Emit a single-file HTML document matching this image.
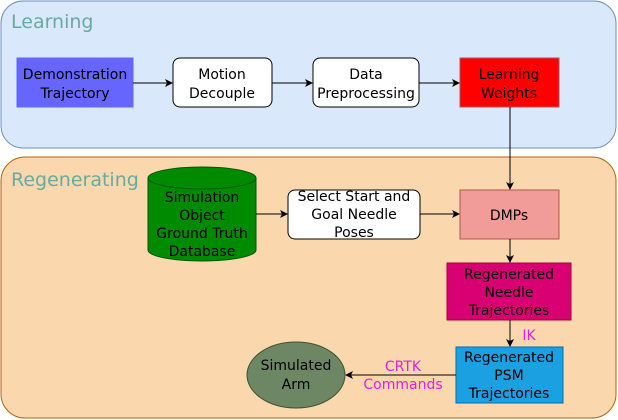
<!DOCTYPE html>
<html><head><meta charset="utf-8"><style>
body{margin:0;background:#fff}
svg{display:block}
text{font-family:"DejaVu Sans",sans-serif;font-size:14px;text-anchor:middle}
</style></head><body>
<svg width="618" height="420" viewBox="0 0 618 420">
<defs><marker id="a" markerWidth="8" markerHeight="8" refX="7" refY="4" orient="auto" markerUnits="userSpaceOnUse"><path d="M0,0 L8,4 L0,8 L2,4 Z" fill="#000"/></marker></defs>
<rect x="1" y="1" width="615" height="147" rx="22" fill="#dae8fc" stroke="#6c8ebf"/>
<rect x="1" y="157" width="615" height="261" rx="24" fill="#fad7ac" stroke="#b46504"/>
<text x="11" y="28" style="font-size:19px;text-anchor:start;fill:#67ab9f">Learning</text>
<text x="11" y="186" style="font-size:19px;text-anchor:start;fill:#67ab9f">Regenerating</text>
<rect x="17" y="58" width="116" height="49" fill="#6666ff" stroke="#6666ff"/>
<text x="75" y="79">Demonstration</text><text x="75" y="98">Trajectory</text>
<rect x="173" y="58" width="99" height="49" rx="7" fill="#fff" stroke="#000"/>
<text x="222" y="79">Motion</text><text x="222" y="98">Decouple</text>
<rect x="313" y="58" width="106" height="49" rx="7" fill="#fff" stroke="#000"/>
<text x="366" y="79">Data</text><text x="366" y="98">Preprocessing</text>
<rect x="460" y="58" width="99" height="49" fill="#ff0000" stroke="#b85450"/>
<text x="509" y="79">Learning</text><text x="509" y="98">Weights</text>
<line x1="133" y1="83" x2="172" y2="83" stroke="#000" marker-end="url(#a)"/>
<line x1="272" y1="83" x2="312" y2="83" stroke="#000" marker-end="url(#a)"/>
<line x1="419" y1="83" x2="459" y2="83" stroke="#000" marker-end="url(#a)"/>
<line x1="510" y1="107" x2="510" y2="189" stroke="#000" marker-end="url(#a)"/>
<path d="M148,178 L148,250 A54,11 0 0 0 256,250 L256,178" fill="#008a00" stroke="#005700"/>
<ellipse cx="202" cy="178" rx="54" ry="11" fill="#008a00" stroke="#005700"/>
<text x="202" y="202">Simulation</text><text x="202" y="220">Object</text><text x="202" y="238">Ground Truth</text><text x="202" y="256">Database</text>
<rect x="288" y="190" width="132" height="49" rx="7" fill="#fff" stroke="#000"/>
<text x="354" y="201">Select Start and</text><text x="354" y="219">Goal Needle</text><text x="354" y="237">Poses</text>
<rect x="460" y="190" width="99" height="49" fill="#f19c99" stroke="#b85450"/>
<text x="509" y="220">DMPs</text>
<line x1="256" y1="214" x2="287" y2="214" stroke="#000" marker-end="url(#a)"/>
<line x1="420" y1="214" x2="459" y2="214" stroke="#000" marker-end="url(#a)"/>
<line x1="510" y1="239" x2="510" y2="262" stroke="#000" marker-end="url(#a)"/>
<rect x="447" y="263" width="124" height="57" fill="#d80073" stroke="#a50040"/>
<text x="509" y="279">Regenerated</text><text x="509" y="297">Needle</text><text x="509" y="315">Trajectories</text>
<line x1="510" y1="320" x2="510" y2="346" stroke="#000" marker-end="url(#a)"/>
<text x="529" y="340" style="fill:#e020e0">IK</text>
<rect x="456" y="347" width="107" height="56" fill="#1ba1e2" stroke="#006eaf"/>
<text x="509" y="362">Regenerated</text><text x="509" y="380">PSM</text><text x="509" y="398">Trajectories</text>
<line x1="456" y1="375" x2="346" y2="375" stroke="#000" marker-end="url(#a)"/>
<text x="403" y="371" style="fill:#e020e0">CRTK</text><text x="403" y="389" style="fill:#e020e0">Commands</text>
<ellipse cx="296" cy="375" rx="49" ry="33" fill="#6d8764" stroke="#3a5431"/>
<text x="296" y="370">Simulated</text><text x="296" y="389">Arm</text>
</svg>
</body></html>
